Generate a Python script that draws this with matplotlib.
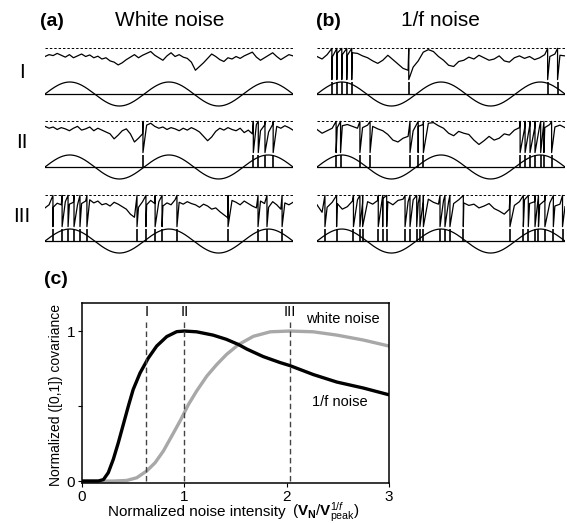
import numpy as np
import matplotlib.pyplot as plt

plt.rcParams['font.family'] = ['Liberation Sans', 'DejaVu Sans']
plt.rcParams['mathtext.fontset'] = 'custom'
plt.rcParams['mathtext.rm'] = 'Liberation Sans'
plt.rcParams['mathtext.bf'] = 'Liberation Sans:bold'
plt.rcParams['mathtext.it'] = 'Liberation Sans:italic'

# ---- (a)/(b) traces: 0 = bottom of spike, 1 = threshold (dashed line)
white_I = [0.74, 0.80, 0.77, 0.84, 0.78, 0.72, 0.80, 0.70, 0.76, 0.82,
           0.74, 0.79, 0.70, 0.75, 0.66, 0.70, 0.60, 0.56, 0.47, 0.54,
           0.64, 0.72, 0.80, 0.70, 0.78, 0.84, 0.90, 0.78, 0.70, 0.62,
           0.76, 0.86, 0.74, 0.80, 0.72, 0.68, 0.56, 0.30, 0.42, 0.54,
           0.68, 0.82, 0.74, 0.64, 0.58, 0.70, 0.66, 0.74, 0.68, 0.76,
           0.82, 0.88, 0.72, 0.62, 0.70, 0.78, 0.86, 0.74, 0.64, 0.72,
           0.80, 0.76]
white_II = [0.84, 0.78, 0.82, 0.74, 0.80, 0.76, 0.70, 0.78, 0.84, 0.72,
            0.76, 0.82, 0.70, 0.78, 0.72, 0.66, 0.60, 0.44, 0.56, 0.70,
            0.76, 0.60, 0.34, 0.46, 0.60, 0.88, 0.94, 0.84, 0.78, 0.82,
            0.74, 0.80, 0.76, 0.70, 0.78, 0.72, 0.80, 0.74, 0.66, 0.52,
            0.38, 0.50, 0.68, 0.78, 0.72, 0.80, 0.74, 0.70, 0.78, 0.64,
            0.72, 0.60, 0.90, 0.70, 0.88, 0.66, 0.90, 0.84, 0.78, 0.86,
            0.80, 0.72]
white_III = [0.60, 0.70, 0.62, 0.75, 0.70, 0.80, 0.72, 0.78, 0.70, 0.74,
             0.82, 0.86, 0.76, 0.82, 0.70, 0.74, 0.66, 0.78, 0.72, 0.64,
             0.56, 0.40, 0.30, 0.62, 0.80, 0.70, 0.84, 0.74, 0.80, 0.66,
             0.76, 0.70, 0.86, 0.78, 0.72, 0.80, 0.74, 0.70, 0.62, 0.72,
             0.66, 0.56, 0.60, 0.48, 0.38, 0.28, 0.84, 0.78, 0.70, 0.82,
             0.74, 0.66, 0.60, 0.82, 0.74, 0.62, 0.80, 0.70, 0.56, 0.76,
             0.70, 0.78]
pink_I = [0.74, 0.66, 0.80, 0.72, 0.85, 0.80, 0.78, 0.86, 0.84, 0.76,
          0.70, 0.60, 0.52, 0.62, 0.78, 0.64, 0.50, 0.36, 0.30, 0.40,
          0.60, 0.88, 0.96, 0.90, 0.74, 0.62, 0.46, 0.42, 0.58, 0.62,
          0.72, 0.66, 0.78, 0.70, 0.62, 0.66, 0.76, 0.60, 0.56, 0.70,
          0.76, 0.68, 0.74, 0.64, 0.70, 0.80, 0.74, 0.82, 0.78, 0.76]
pink_II = [0.74, 0.62, 0.70, 0.78, 0.80, 0.86, 0.90, 0.84, 0.78, 0.80,
           0.88, 0.84, 0.76, 0.70, 0.58, 0.40, 0.34, 0.46, 0.52, 0.70,
           0.84, 0.90, 0.94, 0.96, 0.86, 0.78, 0.62, 0.54, 0.68, 0.62,
           0.58, 0.40, 0.26, 0.38, 0.52, 0.40, 0.46, 0.60, 0.56, 0.72,
           0.80, 0.76, 0.84, 0.78, 0.86, 0.80, 0.90, 0.82, 0.88, 0.80]
pink_III = [0.70, 0.46, 0.62, 0.78, 0.74, 0.56, 0.64, 0.82, 0.86, 0.76,
            0.80, 0.72, 0.84, 0.90, 0.80, 0.70, 0.84, 0.88, 0.80, 0.86,
            0.76, 0.82, 0.88, 0.78, 0.72, 0.84, 0.80, 0.74, 0.86, 0.76,
            0.68, 0.72, 0.60, 0.66, 0.74, 0.58, 0.50, 0.40, 0.56, 0.68,
            0.80, 0.86, 0.74, 0.80, 0.70, 0.84, 0.76, 0.66, 0.72, 0.64]

# spike times, fraction of the shown window
white_I_spikes = []
white_II_spikes = [0.395, 0.84, 0.86, 0.887, 0.92]
white_III_spikes = [0.032, 0.069, 0.093, 0.117, 0.141, 0.169,
                    0.371, 0.407, 0.444, 0.472, 0.532, 0.738,
                    0.859, 0.895, 0.956]
pink_I_spikes = [0.06, 0.08, 0.10, 0.12, 0.14, 0.37, 0.93, 0.97]
pink_II_spikes = [0.077, 0.095, 0.173, 0.214, 0.375, 0.408, 0.429,
                  0.819, 0.839, 0.859, 0.879, 0.902, 0.915, 0.946]
pink_III_spikes = [0.032, 0.079, 0.147, 0.173, 0.184, 0.247, 0.265, 0.281,
                   0.355, 0.375, 0.402, 0.415, 0.429, 0.496, 0.516, 0.536,
                   0.590, 0.778, 0.832, 0.852, 0.879, 0.893, 0.919, 0.953,
                   0.99]
N_CYCLES = 2.5

# ---- (c) covariance curves
pink_x = [0, 0.16, 0.21, 0.257, 0.306, 0.355, 0.404, 0.453, 0.50, 0.567,
          0.648, 0.73, 0.828, 0.926, 1.0, 1.12, 1.28, 1.41, 1.53, 1.61,
          1.77, 1.935, 2.03, 2.26, 2.49, 2.75, 3.0]
pink_y = [0, 0, 0.01, 0.056, 0.145, 0.256, 0.378, 0.50, 0.61, 0.72,
          0.82, 0.90, 0.963, 0.996, 1.0, 0.995, 0.973, 0.945, 0.91, 0.88,
          0.83, 0.79, 0.77, 0.71, 0.66, 0.62, 0.575]
white_x = [0, 0.306, 0.437, 0.535, 0.632, 0.714, 0.795, 0.877, 0.958, 1.04,
           1.12, 1.22, 1.317, 1.414, 1.53, 1.675, 1.84, 2.03, 2.26, 2.49,
           2.75, 3.0]
white_y = [0, 0, 0.004, 0.022, 0.067, 0.122, 0.20, 0.30, 0.40, 0.51,
           0.60, 0.70, 0.777, 0.845, 0.91, 0.965, 0.995, 1.0, 0.995, 0.973,
           0.94, 0.9]
marker_x = [0.63, 1.0, 2.03]
marker_labels = ['I', 'II', 'III']

ROW_OFFSETS = [0, -6.08, -12.25]


def draw_row(ax, trace, spikes, off):
    x = np.linspace(0, 1, len(trace))
    pts = [(xi, 0, v) for xi, v in zip(x, trace)]
    for t in spikes:
        pts += [(t, 1, 1.0), (t, 2, 0.0)]
    pts.sort()
    ax.plot([p[0] for p in pts], [off + 1.2 + 2.6 * p[2] for p in pts],
            color='black', lw=0.9)
    ax.plot([0, 1], [off + 3.85] * 2, color='black', lw=0.7, ls=(0, (2.5, 2)))
    s = np.linspace(0, 1, 400)
    ax.plot(s, off + np.sin(2 * np.pi * N_CYCLES * s), color='black', lw=0.9)
    ax.plot([0, 1], [off, off], color='black', lw=0.9)
    if spikes:
        ax.vlines(spikes, off, off + 1.0, color='black', lw=1.2)


fig = plt.figure(figsize=(5.67, 5.23), dpi=100)
W, H = 567, 523

panels = [
    (45, [white_I, white_II, white_III],
     [white_I_spikes, white_II_spikes, white_III_spikes]),
    (317, [pink_I, pink_II, pink_III],
     [pink_I_spikes, pink_II_spikes, pink_III_spikes]),
]
for left, traces, spk in panels:
    ax = fig.add_axes([left / W, 1 - 260 / H, 248 / W, 220 / H])
    for tr, sp, off in zip(traces, spk, ROW_OFFSETS):
        draw_row(ax, tr, sp, off)
    ax.set_xlim(0, 1)
    ax.set_ylim(-13.83, 4.5)
    ax.axis('off')

fig.text(52 / W, 1 - 21 / H, '(a)', fontsize=14, fontweight='bold',
         ha='center', va='center')
fig.text(170 / W, 1 - 21 / H, 'White noise', fontsize=15, ha='center', va='center')
fig.text(328 / W, 1 - 21 / H, '(b)', fontsize=14, fontweight='bold',
         ha='center', va='center')
fig.text(440 / W, 1 - 21 / H, '1/f noise', fontsize=15, ha='center', va='center')
for lab, y in zip(['I', 'II', 'III'], [72, 143, 217]):
    fig.text(22 / W, 1 - y / H, lab, fontsize=15, ha='center', va='center')

# ---- (c)
ax = fig.add_axes([82 / W, 1 - 482.7 / H, 307 / W, 180 / H])
ax.plot(white_x, white_y, color='#a8a8a8', lw=2.4)
ax.plot(pink_x, pink_y, color='black', lw=2.4)
for mx, ml in zip(marker_x, marker_labels):
    ax.plot([mx, mx], [0, 1.07], color='#444444', lw=1.0, ls=(0, (4, 2.5)))
    ax.text(mx, 1.125, ml, fontsize=10.5, ha='center', va='center')
ax.text(2.55, 1.08, 'white noise', fontsize=10.5, ha='center', va='center')
ax.text(2.52, 0.53, '1/f noise', fontsize=10.5, ha='center', va='center')
ax.set_xlim(0, 3)
ax.set_ylim(-0.011, 1.189)
ax.set_xticks([0, 1, 2, 3])
ax.set_yticks([0, 0.5, 1])
ax.set_yticklabels(['0', '', '1'])
ax.tick_params(direction='out', length=3, labelsize=11, pad=2)
for sp in ax.spines.values():
    sp.set_linewidth(1.1)

fig.text(56 / W, 1 - 395 / H, 'Normalized ([0,1]) covariance', fontsize=10,
         rotation=90, ha='center', va='center')
# x label in two pieces so the tall math part sits clear of the tick labels
t1 = fig.text(108 / W, 1 - 516 / H, 'Normalized noise intensity ',
              fontsize=11, ha='left', va='baseline')
fig.canvas.draw()
x1 = t1.get_window_extent().x1
fig.text(x1 / W + 0.004, 1 - 516 / H,
         r'($\mathbf{V_N}$/$\mathbf{V}^{1/f}_{\mathrm{peak}}$)',
         fontsize=11, ha='left', va='baseline')
fig.text(56 / W, 1 - 280 / H, '(c)', fontsize=14, fontweight='bold',
         ha='center', va='center')

fig.savefig('out.png', dpi=100)
